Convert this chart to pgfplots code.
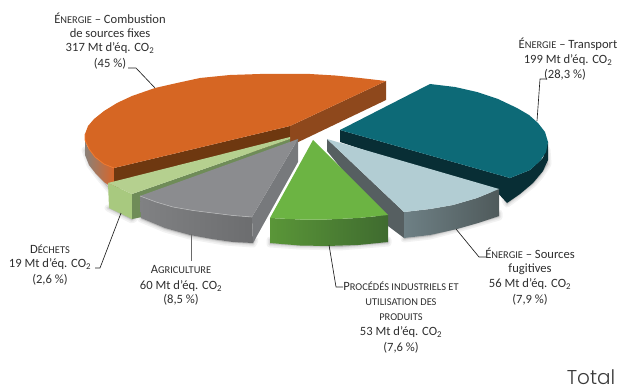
\documentclass[border=0pt]{standalone}
\usepackage{pgfplots}
\pgfplotsset{compat=1.18}
\usepackage{fontspec}
\setmainfont{Carlito}
\newfontfamily\totalfont{Poppins Light}
\definecolor{txt}{HTML}{2E2E2E}
\definecolor{ink}{HTML}{1E1E1E}
\definecolor{orTop}{HTML}{D66623}
\definecolor{orEdge}{HTML}{F07A30}
\definecolor{orCutA}{HTML}{6E3810}
\definecolor{orCutB}{HTML}{8E481C}
\definecolor{orWallA}{HTML}{8A8078}
\definecolor{orWallB}{HTML}{D8662A}
\definecolor{teTop}{HTML}{0D6A77}
\definecolor{teCut}{HTML}{082E35}
\definecolor{teWall}{HTML}{082E35}
\definecolor{blTop}{HTML}{B2CDD3}
\definecolor{blCut}{HTML}{565F61}
\definecolor{blWallA}{HTML}{6E8085}
\definecolor{blWallB}{HTML}{4F5A5B}
\definecolor{grTop}{HTML}{6CB443}
\definecolor{grWallA}{HTML}{5A9638}
\definecolor{grWallB}{HTML}{3F6B2F}
\definecolor{ltTop}{HTML}{B5D08F}
\definecolor{ltFront}{HTML}{A8C97F}
\definecolor{ltCut}{HTML}{6F8C58}
\definecolor{gyTop}{HTML}{8B8C8F}
\definecolor{gyCut}{HTML}{77797C}
\definecolor{gyWallA}{HTML}{808183}
\definecolor{gyWallB}{HTML}{6C6D6F}
\definecolor{gyEdge}{HTML}{B4B5B6}
\definecolor{leadGy}{HTML}{6A6A6A}
\definecolor{totalTxt}{HTML}{3A3A3A}
% small capitals built from a reduced size
\newcommand{\sca}[1]{{\fontsize{10.4}{10.4}\selectfont #1}}
\newcommand{\co}{CO\textsubscript{2}}
\tikzset{lab/.style={font=\fontsize{12.6}{14}\selectfont, text=txt, inner sep=0pt, anchor=center}}
\pgfplotsset{
  face/.style={draw=none, fill=#1, no markers},
  wall/.style 2 args={draw=none, left color=#1, right color=#2, no markers},
  leader/.style={draw=ink, line width=0.65pt, no markers, line join=round},
  halo/.style={draw=black, fill=black, no markers, opacity=0.05, line join=round, line width=#1},
}
\begin{document}
\begin{tikzpicture}
\begin{axis}[
  scale only axis, width=620pt, height=390pt,
  xmin=0, xmax=620, ymin=0, ymax=390, y dir=reverse,
  hide axis, clip=false,
]
\path (axis cs:0,0) rectangle (axis cs:620,390);

% soft contact shadows below the raised slices
\pgfplotsinvokeforeach{7pt,4pt,2pt}{
  \addplot[halo=#1] coordinates {(85,150) (90,165) (100,178) (110,190)} -- cycle;
  \addplot[halo=#1] coordinates {(108,208) (132,220) (135,218) (112,208)} -- cycle;
  \addplot[halo=#1] coordinates {(141,219) (165,229) (190,236) (225,242) (253,244) (255,240) (225,238) (190,232) (165,225) (141,215)} -- cycle;
  \addplot[halo=#1] coordinates {(270,244) (300,246) (340,247) (388,243) (388,240) (340,244) (300,243) (270,240)} -- cycle;
  \addplot[halo=#1] coordinates {(404,239) (430,236) (457,229) (499,217) (499,213) (457,225) (430,232) (404,236)} -- cycle;
  \addplot[halo=#1] coordinates {(547,150) (548,164) (540,176) (533,184) (518,196) (507,204) (505,200) (530,180) (544,162)} -- cycle;
}

% Energie: combustion de sources fixes
\addplot[wall={orWallA}{orWallB}] coordinates {(85,137) (87,146) (90,150) (96,158) (105,164) (114,168) (114,189) (104,182) (96,174) (89,165) (85,155)} -- cycle;
\addplot[face=orCutA] coordinates {(114,168) (290,126) (290,142) (114,190)} -- cycle;
\addplot[face=orCutB] coordinates {(290,126) (386,81) (386,100) (290,146)} -- cycle;
\addplot[face=orTop] coordinates {(114,168) (104,164) (95,157) (89,149) (85,140) (85,134) (88,126) (94,119) (104,111) (117,103) (132,96) (155,88) (177,83) (200,78) (230,75) (260,74) (290,74) (310,74) (335,75.5) (360,78) (386,81) (290,126)} -- cycle;
\addplot[draw=orEdge, line width=0.8pt, no markers] coordinates {(114,168) (104,164) (95,157) (89,149) (85,140) (85,134)};

% Energie: transport
\addplot[face=teCut] coordinates {(340,130) (510,178) (499,195) (340,142)} -- cycle;
\addplot[face=teWall] coordinates {(510,178) (530,170) (543,158) (548,142) (548,160) (543,171) (533,183) (520,194) (507,203) (495,190)} -- cycle;
\addplot[face=teTop] coordinates {(340,130) (430,84) (455,87) (477,92) (498,99) (517,108) (529,115) (538,123) (545,132) (548,142) (546,152) (540,161) (530,170) (520,174) (510,178)} -- cycle;

% Energie: sources fugitives
\addplot[face=blCut] coordinates {(327,139) (404,212) (404,238) (388,226) (327,151)} -- cycle;
\addplot[wall={blWallA}{blWallB}] coordinates {(404,212) (430,209) (453,205) (477,198) (499,189) (499,216) (478,223) (457,229) (430,235) (404,238)} -- cycle;
\addplot[face=blTop] coordinates {(327,139) (499,189) (477,198) (453,205) (430,209) (404,212)} -- cycle;

% Procedes industriels
\addplot[wall={grWallA}{grWallB}] coordinates {(270,218) (300,219.5) (327,219.5) (358,218) (388,215) (388,242) (358,245) (327,246) (300,245.5) (270,243)} -- cycle;
\addplot[face=grTop] coordinates {(313,140) (388,215) (358,218) (327,219.5) (300,219.5) (270,218)} -- cycle;

% Dechets et agriculture
\addplot[face=ltFront] coordinates {(108,183) (132,194) (132,219) (109,208)} -- cycle;
\addplot[face=ltCut] coordinates {(132,194) (290,139) (290,143) (142,197) (142,217) (132,219)} -- cycle;
\addplot[face=ltTop] coordinates {(108,183) (290,137) (290,139) (132,194)} -- cycle;
\addplot[wall={gyWallA}{gyWallB}] coordinates {(140,196) (156,202) (173,207) (193,210.5) (213,213) (233,215.5) (252,217) (253,243) (233,242) (212,239) (190,235) (165,228) (141,218)} -- cycle;
\addplot[face=gyCut] coordinates {(252,217) (298,139) (298,162) (253,243)} -- cycle;
\addplot[face=gyTop] coordinates {(298,139) (252,217) (233,215.5) (213,213) (193,210.5) (173,207) (156,202) (140,196)} -- cycle;
\addplot[draw=gyEdge, line width=0.6pt, no markers] coordinates {(140,196) (156,202) (173,207) (193,210.5) (213,213) (233,215.5) (252,217)};

% leader lines
\addplot[leader] coordinates {(128,68) (136,68) (155,88)};
\addplot[leader] coordinates {(547,79) (540,79) (537,121)};
\addplot[leader] coordinates {(486,257) (479,257) (456,229)};
\addplot[leader] coordinates {(343,287) (336,287) (329,245)};
\addplot[leader, draw=leadGy, line width=1pt] coordinates {(191,234) (191,261)};
\addplot[leader] coordinates {(95,268) (100,268) (121,213)};

% labels
\node[lab] at (axis cs:110,18) {É\sca{NERGIE} -- Combustion};
\node[lab] at (axis cs:110,33) {de sources fixes};
\node[lab] at (axis cs:110,48) {317 Mt d'éq. \co};
\node[lab] at (axis cs:110,64) {(45 \%)};

\node[lab] at (axis cs:568,44) {É\sca{NERGIE} -- Transport};
\node[lab] at (axis cs:568,60) {199 Mt d'éq. \co};
\node[lab] at (axis cs:565,75) {(28,3 \%)};

\node[lab] at (axis cs:530,253) {É\sca{NERGIE} -- Sources};
\node[lab] at (axis cs:530,269) {fugitives};
\node[lab] at (axis cs:530,284) {56 Mt d'éq. \co};
\node[lab] at (axis cs:530,300) {(7,9 \%)};

\node[lab] at (axis cs:401,286) {P\sca{ROCÉDÉS INDUSTRIELS ET}};
\node[lab] at (axis cs:401,302) {\sca{UTILISATION DES}};
\node[lab] at (axis cs:401,317) {\sca{PRODUITS}};
\node[lab] at (axis cs:401,332) {53 Mt d'éq. \co};
\node[lab] at (axis cs:401,348) {(7,6 \%)};

\node[lab] at (axis cs:181,269) {A\sca{GRICULTURE}};
\node[lab] at (axis cs:181,286) {60 Mt d'éq. \co};
\node[lab] at (axis cs:181,300) {(8,5 \%)};

\node[lab] at (axis cs:50,249) {D\sca{ÉCHETS}};
\node[lab] at (axis cs:50,264) {19 Mt d'éq. \co};
\node[lab] at (axis cs:50,280) {(2,6 \%)};

\node[font=\totalfont\fontsize{20}{22}\selectfont, text=totalTxt, inner sep=0pt] at (axis cs:591,377) {Total};
\end{axis}
\end{tikzpicture}
\end{document}
